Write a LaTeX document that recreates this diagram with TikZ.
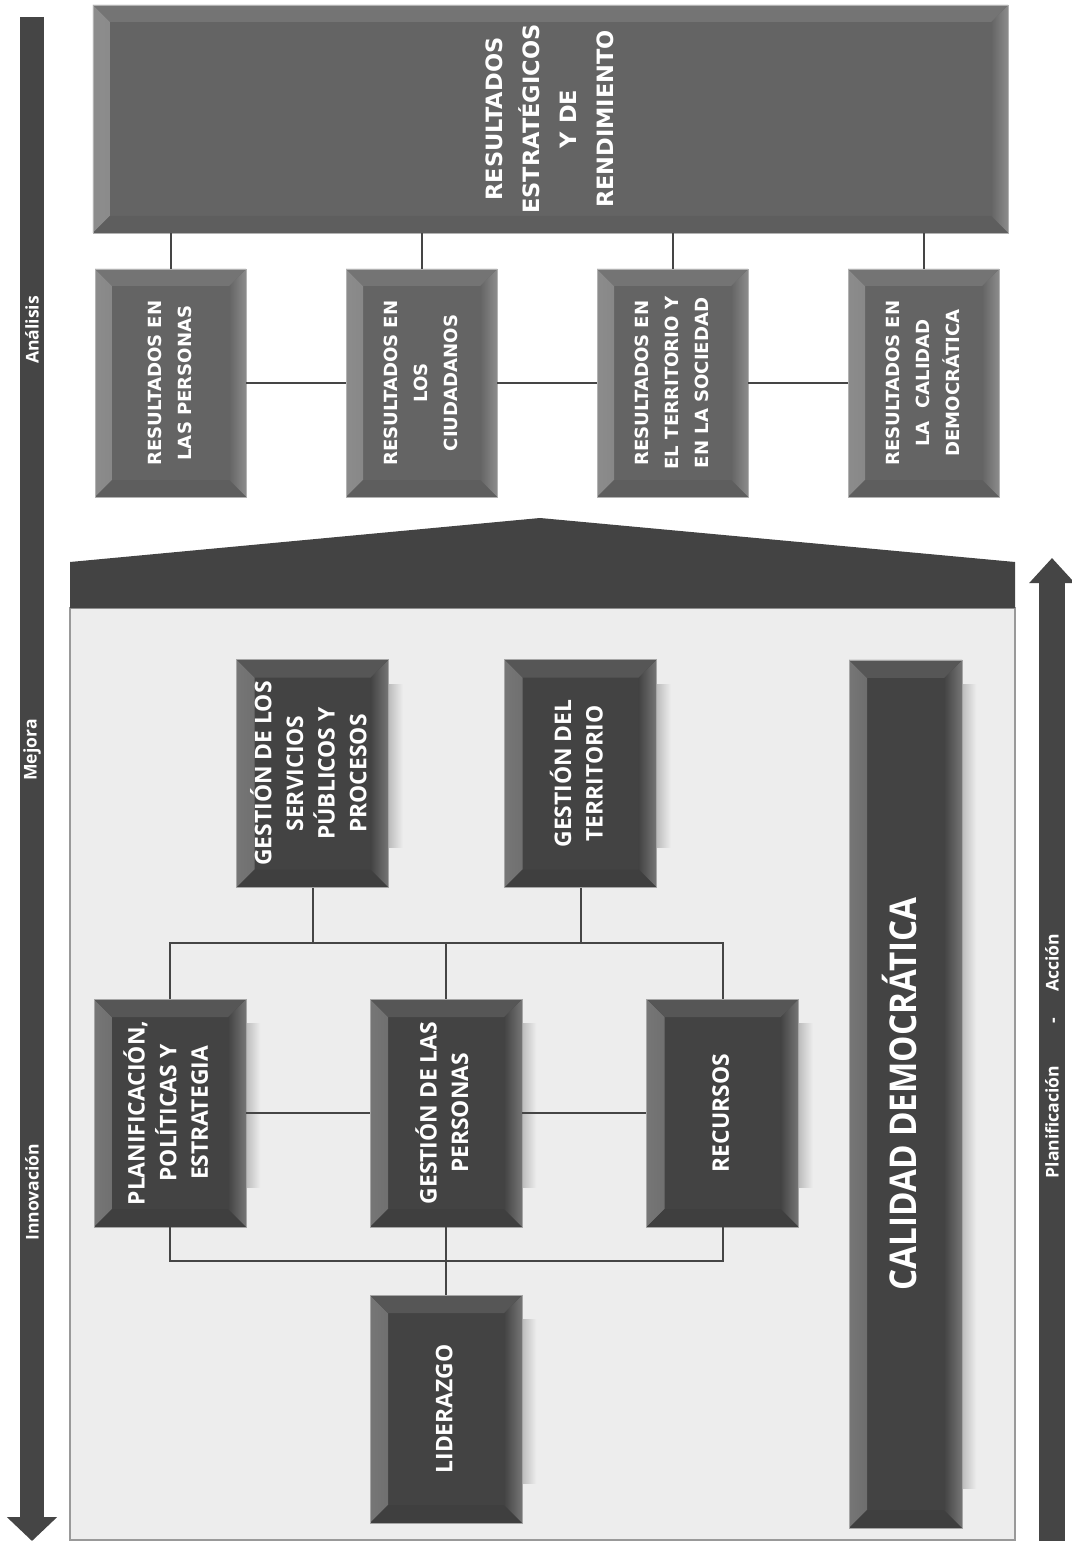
\documentclass[tikz,border=0pt]{standalone}
\usepackage{fontspec}
\usepackage{graphicx}
\setmainfont{Open Sans}
\newfontfamily\resfont{DejaVu Sans}
\newfontfamily\condfont{Open Sans}[FakeStretch=0.9]
\usetikzlibrary{arrows.meta}

\definecolor{boxdark}{HTML}{434343}
\definecolor{boxmid}{HTML}{646464}
\definecolor{edgedark}{HTML}{767676}
\definecolor{edgemid}{HTML}{8C8C8C}
\definecolor{panelgray}{HTML}{EDEDED}
\definecolor{linegray}{HTML}{454545}

\pgfdeclarelayer{bg}
\pgfsetlayers{bg,main}

% text set upright on the page (reads bottom to top)
\newcommand{\vtxt}[1]{\rotatebox{90}{\begin{tabular}{@{}c@{}}#1\end{tabular}}}

% bevelled frame: #1 inner colour, #2 side colour, #3 bevel size
\newcommand{\bevel}[3]{%
  \shade[left color=#2, right color=#1] (path picture bounding box.south west) -- (path picture bounding box.north west) -- ([xshift=#3,yshift=-#3]path picture bounding box.north west) -- ([xshift=#3,yshift=#3]path picture bounding box.south west) -- cycle;
  \shade[left color=#1, right color=#2] (path picture bounding box.south east) -- (path picture bounding box.north east) -- ([xshift=-#3,yshift=-#3]path picture bounding box.north east) -- ([xshift=-#3,yshift=#3]path picture bounding box.south east) -- cycle;
  \fill[#1!90!white] (path picture bounding box.north west) -- (path picture bounding box.north east) -- ([xshift=-#3,yshift=-#3]path picture bounding box.north east) -- ([xshift=#3,yshift=-#3]path picture bounding box.north west) -- cycle;
  \fill[#1!94!black] (path picture bounding box.south west) -- (path picture bounding box.south east) -- ([xshift=-#3,yshift=#3]path picture bounding box.south east) -- ([xshift=#3,yshift=#3]path picture bounding box.south west) -- cycle;
}

\tikzset{
  darkbox/.style={rectangle, fill=boxdark, draw=gray!70, line width=.3pt, text=white,
    minimum width=30.4mm, minimum height=45.6mm, inner sep=0pt,
    path picture={\bevel{boxdark}{edgedark}{3.6mm}},
    font=\bfseries\fontsize{13}{18}\selectfont},
  resbox/.style={rectangle, fill=boxmid, draw=gray!60, line width=.3pt, text=white,
    minimum width=30.2mm, minimum height=45.6mm, inner sep=0pt,
    path picture={\bevel{boxmid}{edgemid}{3.4mm}},
    font=\resfont\bfseries\fontsize{10.3}{17}\selectfont},
  boxshadow/.style={left color=black!26, right color=panelgray},
  conn/.style={draw=linegray, line width=.4mm},
  bigarrow/.style={draw=linegray, line width=#1},
  sidelbl/.style={text=white, rotate=90, font=\bfseries\fontsize{10}{12}\selectfont}
}

\begin{document}
\begin{tikzpicture}[x=0.2mm, y=-0.2mm, node distance=50.2mm]
\useasboundingbox (0,0) rectangle (1071,1541);

% house
\begin{pgfonlayer}{bg}
\fill[white] (0,0) rectangle (1071,1541);
\filldraw[fill=panelgray, draw=gray!80, line width=.3mm] (70,608) rectangle (1015,1540);
\end{pgfonlayer}
\fill[boxdark] (70,608) -- (70,562) -- (540,518) -- (1015,562) -- (1015,608) -- cycle;

% side arrows
\coordinate (leftTop) at (32,17);
\coordinate (leftTip) at (32,1541);
\draw[bigarrow=4.8mm, -{Triangle[width=9.8mm,length=4.8mm]}] (leftTop) -- (leftTip);
\node[sidelbl] (ana) at (32,330) {Análisis};
\node[sidelbl] (mej) at (32,750) {Mejora};
\node[sidelbl] (inn) at (32,1192) {Innovación};

\coordinate (rightBase) at (1052,1541);
\coordinate (rightTip) at (1052,558);
\draw[bigarrow=5.2mm, -{Triangle[width=8.8mm,length=5mm]}] (rightBase) -- (rightTip);
\node[sidelbl] (pla) at (1052,1056) {Planificación\hspace{2.4em}-\hspace{1.5em}Acción};

% results
\node[resbox, minimum width=183mm, font=\resfont\bfseries\fontsize{12.8}{21}\selectfont] (T) at (550.5,119)
  {\vtxt{RESULTADOS\\ESTRATÉGICOS\\Y DE\\RENDIMIENTO}};
\node[resbox] (R1) at (170.5,383) {\vtxt{RESULTADOS EN\\LAS PERSONAS}};
\node[resbox] (R2) [right of=R1] {\vtxt{RESULTADOS EN\\LOS\\CIUDADANOS}};
\node[resbox] (R3) [right of=R2] {\vtxt{RESULTADOS EN\\EL TERRITORIO Y\\EN LA SOCIEDAD}};
\node[resbox] (R4) [right of=R3] {\vtxt{RESULTADOS EN\\LA\ \ CALIDAD\\DEMOCRÁTICA}};

% agents
\node[darkbox] (GS) at (312.5,773.5) {\vtxt{GESTIÓN DE LOS\\SERVICIOS\\PÚBLICOS Y\\PROCESOS}};
\node[darkbox] (GT) [right of=GS, xshift=3.4mm] {\vtxt{GESTIÓN DEL\\TERRITORIO}};
\node[darkbox] (PL) at (170,1113) {\vtxt{PLANIFICACIÓN,\\POLÍTICAS Y\\ESTRATEGIA}};
\node[darkbox] (GP) [right of=PL, xshift=5mm] {\vtxt{GESTIÓN DE LAS\\PERSONAS}};
\node[darkbox] (RE) [right of=GP, xshift=5.1mm] {\vtxt{RECURSOS}};
\node[darkbox] (LI) [below of=GP, yshift=-9mm] {\vtxt{LIDERAZGO}};
\node[darkbox, minimum width=22.6mm, minimum height=173.6mm,
  font=\condfont\bfseries\fontsize{21}{25}\selectfont] (CD) at (905.5,1094) {\vtxt{CALIDAD DEMOCRÁTICA}};

\begin{pgfonlayer}{bg}
\foreach \b in {GS,GT,PL,GP,RE,LI,CD}
  \shade[boxshadow] ([yshift=-5mm]\b.north east) rectangle ([xshift=2.8mm,yshift=8mm]\b.south east);
\end{pgfonlayer}

% connectors
\foreach \r in {R1,R2,R3,R4}
  \draw[conn] (\r.north) -- (\r.north |- T.south);
\draw[conn] (R1.east) -- (R2.west);
\draw[conn] (R2.east) -- (R3.west);
\draw[conn] (R3.east) -- (R4.west);

\coordinate (busTop) at (448,943);
\coordinate (busLow) at (448,1261);
\draw[conn] (GS.south) -- (GS.south |- busTop);
\draw[conn] (GT.south) -- (GT.south |- busTop);
\draw[conn] (PL.north) -- (PL.north |- busTop) -- (RE.north |- busTop) -- (RE.north);
\draw[conn] (GP.north) -- (GP.north |- busTop);
\draw[conn] (PL.east) -- (GP.west);
\draw[conn] (GP.east) -- (RE.west);
\draw[conn] (PL.south) -- (PL.south |- busLow) -- (RE.south |- busLow) -- (RE.south);
\draw[conn] (GP.south) -- (LI.north);

\end{tikzpicture}
\end{document}
